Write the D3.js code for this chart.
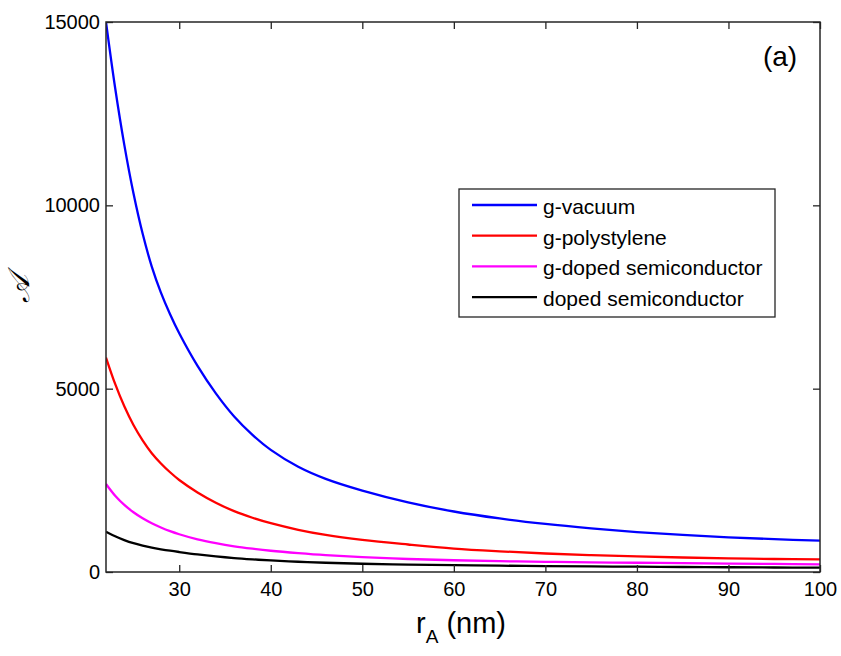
<!DOCTYPE html>
<html>
<head>
<meta charset="utf-8">
<script src="https://cdn.jsdelivr.net/npm/d3@7"></script>
<style>
  html, body { margin: 0; padding: 0; background: #fff; }
  svg { display: block; }
  text { font-family: "Liberation Sans", Arial, sans-serif; fill: #000; }
</style>
</head>
<body>
<svg id="chart" width="841" height="656"></svg>
<script>
// Radius r_A (nm) at which each curve is sampled
const radius = [22, 23, 24, 25, 26, 27, 28, 29, 30, 32, 34, 36, 38, 40, 43, 46, 50, 55, 60, 65, 70, 75, 80, 85, 90, 95, 100];

// Enhancement values per medium
const gVacuum = [15000, 13200, 11650, 10330, 9230, 8330, 7620, 7030, 6510, 5620, 4870, 4240, 3740, 3330, 2870, 2540, 2220, 1900, 1650, 1460, 1310, 1190, 1090, 1010, 945, 895, 855];
const gPolystylene = [5850, 5130, 4520, 4010, 3590, 3240, 2960, 2720, 2510, 2170, 1890, 1660, 1480, 1330, 1150, 1010, 875, 750, 640, 565, 505, 460, 425, 395, 372, 355, 342];
const gDopedSemiconductor = [2400, 2080, 1830, 1630, 1465, 1330, 1215, 1115, 1030, 890, 785, 700, 635, 580, 515, 460, 405, 355, 320, 295, 278, 264, 252, 240, 230, 220, 210];
const dopedSemiconductor = [1100, 975, 870, 785, 720, 665, 620, 580, 545, 480, 425, 380, 345, 315, 280, 252, 225, 200, 185, 172, 162, 153, 145, 137, 130, 123, 117];

const seriesNames = ["g-vacuum", "g-polystylene", "g-doped semiconductor", "doped semiconductor"];
const seriesColors = ["#0000ff", "#ff0000", "#ff00ff", "#000000"];
const seriesValues = [gVacuum, gPolystylene, gDopedSemiconductor, dopedSemiconductor];

const xTicks = [30, 40, 50, 60, 70, 80, 90, 100];
const yTicks = [0, 5000, 10000, 15000];

const svg = d3.select("#chart");
const W = 841, H = 656;
const margin = { top: 22, right: 21, bottom: 84, left: 106 };
const w = W - margin.left - margin.right;
const h = H - margin.top - margin.bottom;

const x = d3.scaleLinear().domain([22, 100]).range([0, w]);
const y = d3.scaleLinear().domain([0, 15000]).range([h, 0]);

const g = svg.append("g").attr("transform", `translate(${margin.left},${margin.top})`);

// clip curves to the plotting box
svg.append("defs").append("clipPath").attr("id", "plotclip")
  .append("rect").attr("x", 0).attr("y", 0).attr("width", w).attr("height", h);

const line = d3.line()
  .x(d => x(d[0]))
  .y(d => y(d[1]))
  .curve(d3.curveCatmullRom.alpha(0.5));

const curves = g.append("g").attr("clip-path", "url(#plotclip)");
seriesValues.forEach((vals, i) => {
  curves.append("path")
    .datum(radius.map((r, k) => [r, vals[k]]))
    .attr("fill", "none")
    .attr("stroke", seriesColors[i])
    .attr("stroke-width", 2.3)
    .attr("d", line);
});

// axes with inward ticks on all four sides
const axisColor = "#262626";
function styleAxis(sel) {
  sel.select(".domain").remove();
  sel.selectAll(".tick line").attr("stroke", axisColor).attr("stroke-width", 1.3);
  sel.selectAll(".tick text").attr("font-size", 20).attr("fill", "#000")
    .attr("font-family", "'Liberation Sans', Arial, sans-serif");
}

g.append("g").attr("transform", `translate(0,${h})`)
  .call(d3.axisBottom(x).tickValues(xTicks).tickFormat(d3.format("d"))
    .tickSizeInner(-7).tickSizeOuter(0).tickPadding(10))
  .call(styleAxis);

g.append("g")
  .call(d3.axisTop(x).tickValues(xTicks).tickFormat("")
    .tickSizeInner(-7).tickSizeOuter(0))
  .call(styleAxis);

g.append("g")
  .call(d3.axisLeft(y).tickValues(yTicks).tickFormat(d3.format("d"))
    .tickSizeInner(-7).tickSizeOuter(0).tickPadding(6))
  .call(styleAxis);

g.append("g").attr("transform", `translate(${w},0)`)
  .call(d3.axisRight(y).tickValues(yTicks).tickFormat("")
    .tickSizeInner(-7).tickSizeOuter(0))
  .call(styleAxis);

// plot frame
g.append("rect")
  .attr("x", 0).attr("y", 0).attr("width", w).attr("height", h)
  .attr("fill", "none").attr("stroke", axisColor).attr("stroke-width", 1.5);

// panel tag
svg.append("text")
  .attr("x", 780).attr("y", 66)
  .attr("text-anchor", "middle")
  .attr("font-size", 28)
  .text("(a)");

// legend
const legend = svg.append("g").attr("transform", "translate(459,189)");
legend.append("rect")
  .attr("width", 316).attr("height", 128)
  .attr("fill", "#fff").attr("stroke", axisColor).attr("stroke-width", 1.3);
seriesNames.forEach((name, i) => {
  const ly = 16 + i * 30.7;
  legend.append("line")
    .attr("x1", 13).attr("x2", 78).attr("y1", ly).attr("y2", ly)
    .attr("stroke", seriesColors[i]).attr("stroke-width", 2.3);
  legend.append("text")
    .attr("x", 84).attr("y", ly + 9)
    .attr("font-size", 21)
    .text(name);
});

// x-axis title
const xt = svg.append("text")
  .attr("x", 461).attr("y", 633)
  .attr("text-anchor", "middle")
  .attr("font-size", 29);
xt.append("tspan").text("r");
xt.append("tspan").attr("font-size", 19).attr("dy", 10).text("A");
xt.append("tspan").attr("dy", -10).text(" (nm)");

// y-axis title
svg.append("text")
  .attr("transform", "translate(29,289) rotate(-90)")
  .attr("text-anchor", "middle")
  .attr("font-size", 30)
  .attr("font-style", "italic")
  .attr("font-family", "'DejaVu Serif', 'Liberation Serif', serif")
  .text("𝒜");
</script>
</body>
</html>
